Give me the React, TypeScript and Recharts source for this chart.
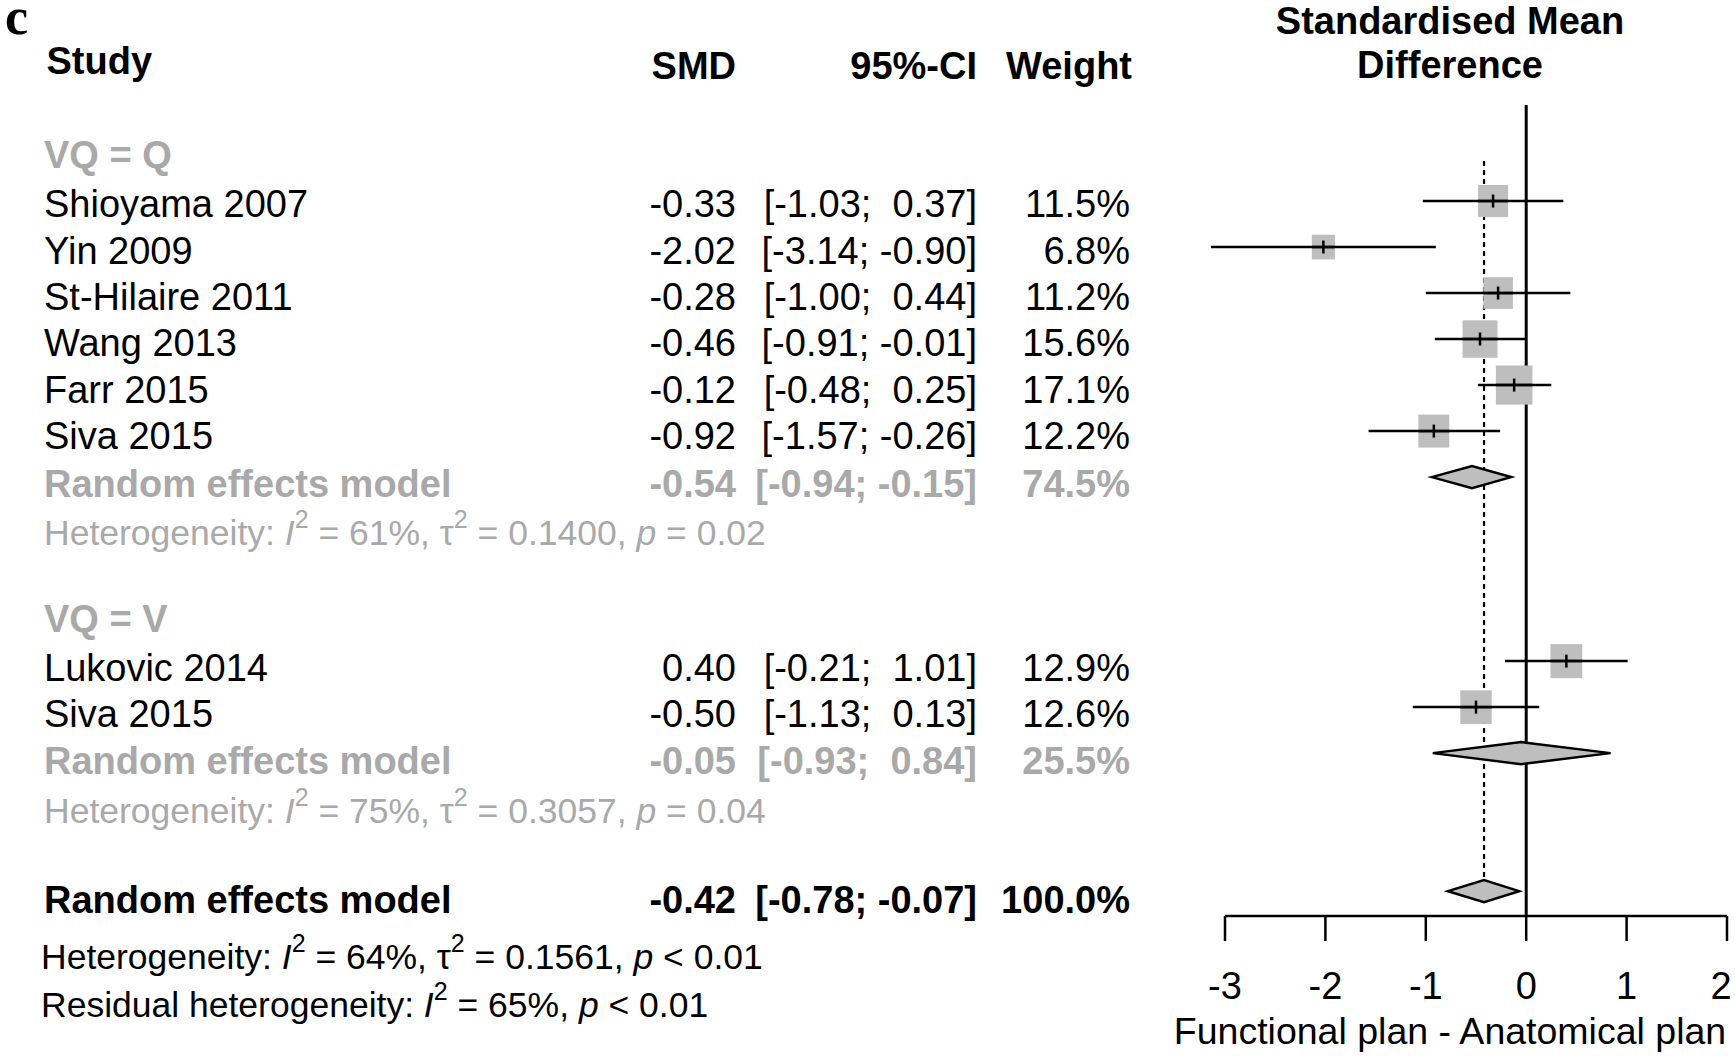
import React from 'react';
import {
  ComposedChart,
  Scatter,
  XAxis,
  YAxis,
  ReferenceLine,
  ReferenceArea,
} from 'recharts';

// ---------------- data ----------------
const studyNames = [
  'Shioyama 2007',
  'Yin 2009',
  'St-Hilaire 2011',
  'Wang 2013',
  'Farr 2015',
  'Siva 2015',
  'Lukovic 2014',
  'Siva 2015',
];
const studySMD = [-0.33, -2.02, -0.28, -0.46, -0.12, -0.92, 0.4, -0.5];
const studyLower = [-1.03, -3.14, -1.0, -0.91, -0.48, -1.57, -0.21, -1.13];
const studyUpper = [0.37, -0.9, 0.44, -0.01, 0.25, -0.26, 1.01, 0.13];
const studyWeight = [11.5, 6.8, 11.2, 15.6, 17.1, 12.2, 12.9, 12.6];

const groupLabels = ['VQ = Q', 'VQ = V'];

const pooledLabels = ['Random effects model', 'Random effects model', 'Random effects model'];
const pooledSMD = [-0.54, -0.05, -0.42];
const pooledLower = [-0.94, -0.93, -0.78];
const pooledUpper = [-0.15, 0.84, -0.07];
const pooledWeight = [74.5, 25.5, 100.0];

const hetI2 = [61, 75, 64];
const hetTau2 = ['0.1400', '0.3057', '0.1561'];
const hetP = ['= 0.02', '= 0.04', '< 0.01'];
const residualI2 = 65;
const residualP = '< 0.01';

const xTicks = [-3, -2, -1, 0, 1, 2];
const headerLabels = ['Study', 'SMD', '95%-CI', 'Weight'];
const titleLines = ['Standardised Mean', 'Difference'];
const axisTitle = 'Functional plan - Anatomical plan';
const panelLetter = 'c';

// ---------------- layout ----------------
const W = 1735;
const H = 1057;
const SANS = "'Liberation Sans', Arial, Helvetica, sans-serif";
const SERIF = "'Liberation Serif', 'Times New Roman', serif";
const GRAY = '#A9A9A9';
const FILL = '#BEBEBE';
const FS = 38;
const HET_FS = 35.5;

const studyRows = [4, 5, 6, 7, 8, 9, 14, 15];
const groupRows = [3, 13];
const pooledRows = [10, 16, 19];
const hetRows = [11, 17];
const Y_MAX = 19.54;
const DIAMOND_HALF = 0.24;

const COL_X: Record<string, number> = {
  letter: 5,
  study: 44,
  studyHead: 46.5,
  smd: 736,
  ci: 977,
  weight: 1130,
  weightHead: 1132,
  title: 1450,
};

const textRow = (r: number) => r * 1.008 + 0.04;

const fmt = (v: number) => v.toFixed(2);
const fmtCI = (lo: number, hi: number) => `[${fmt(lo)}; ${hi >= 0 ? ' ' : ''}${fmt(hi)}]`;
const fmtW = (w: number) => `${w.toFixed(1)}%`;

type Cell = {
  x: number;
  y: number;
  col: string;
  text?: string;
  het?: { label: string; i2: number; tau2?: string; p: string };
  bold?: boolean;
  color: string;
  size: number;
  anchor: 'start' | 'middle' | 'end';
  family?: string;
  baseline?: string;
};

const cells: Cell[] = [];
cells.push({ x: 0, y: 0.37, col: 'letter', text: panelLetter, bold: true, color: '#000', size: 52, anchor: 'start', family: SERIF, baseline: 'alphabetic' });
cells.push({ x: 0, y: 0.076, col: 'title', text: titleLines[0], bold: true, color: '#000', size: FS, anchor: 'middle' });
cells.push({ x: 0, y: 1.05, col: 'title', text: titleLines[1], bold: true, color: '#000', size: FS, anchor: 'middle' });
cells.push({ x: 0, y: 0.96, col: 'studyHead', text: headerLabels[0], bold: true, color: '#000', size: FS, anchor: 'start' });
cells.push({ x: 0, y: 1.065, col: 'smd', text: headerLabels[1], bold: true, color: '#000', size: FS, anchor: 'end' });
cells.push({ x: 0, y: 1.065, col: 'ci', text: headerLabels[2], bold: true, color: '#000', size: FS, anchor: 'end' });
cells.push({ x: 0, y: 1.065, col: 'weightHead', text: headerLabels[3], bold: true, color: '#000', size: FS, anchor: 'end' });

groupLabels.forEach((g, i) => {
  cells.push({ x: 0, y: textRow(groupRows[i]) - 0.06, col: 'study', text: g, bold: true, color: GRAY, size: FS, anchor: 'start' });
});

studyNames.forEach((name, i) => {
  const y = textRow(studyRows[i]);
  cells.push({ x: 0, y, col: 'study', text: name, color: '#000', size: FS, anchor: 'start' });
  cells.push({ x: 0, y, col: 'smd', text: fmt(studySMD[i]), color: '#000', size: FS, anchor: 'end' });
  cells.push({ x: 0, y, col: 'ci', text: fmtCI(studyLower[i], studyUpper[i]), color: '#000', size: FS, anchor: 'end' });
  cells.push({ x: 0, y, col: 'weight', text: fmtW(studyWeight[i]), color: '#000', size: FS, anchor: 'end' });
});

pooledLabels.forEach((lab, i) => {
  const y = textRow(pooledRows[i]) + (i === 0 ? 0.04 : 0);
  const color = i < 2 ? GRAY : '#000';
  cells.push({ x: 0, y, col: 'study', text: lab, bold: true, color, size: FS, anchor: 'start' });
  cells.push({ x: 0, y, col: 'smd', text: fmt(pooledSMD[i]), bold: true, color, size: FS, anchor: 'end' });
  cells.push({ x: 0, y, col: 'ci', text: fmtCI(pooledLower[i], pooledUpper[i]), bold: true, color, size: FS, anchor: 'end' });
  cells.push({ x: 0, y, col: 'weight', text: fmtW(pooledWeight[i]), bold: true, color, size: FS, anchor: 'end' });
});

hetRows.forEach((r, i) => {
  cells.push({
    x: 0,
    y: textRow(r) + 0.09,
    col: 'study',
    het: { label: 'Heterogeneity', i2: hetI2[i], tau2: hetTau2[i], p: hetP[i] },
    color: GRAY,
    size: HET_FS,
    anchor: 'start',
  });
});

const squarePoints = studySMD.map((v, i) => ({ x: v, y: studyRows[i], w: studyWeight[i] }));

// ---------------- rendering helpers ----------------
function HetContent({ label, i2, tau2, p, size }: { label: string; i2: number; tau2?: string; p: string; size: number }) {
  const sup = Math.round(size * 0.7);
  const up = Math.round(size * 0.4);
  return (
    <>
      {`${label}: `}
      <tspan fontStyle="italic">I</tspan>
      <tspan dy={-up} fontSize={sup}>2</tspan>
      <tspan dy={up}>{` = ${i2}%, `}</tspan>
      {tau2 != null ? (
        <>
          {'\u03C4'}
          <tspan dy={-up} fontSize={sup}>2</tspan>
          <tspan dy={up}>{` = ${tau2}, `}</tspan>
        </>
      ) : null}
      <tspan fontStyle="italic">p</tspan>
      {` ${p}`}
    </>
  );
}

const TextCellShape = (props: any) => {
  const { cy, payload } = props;
  const c: Cell = payload;
  if (cy == null || !c) return <g />;
  return (
    <text
      x={COL_X[c.col]}
      y={cy}
      textAnchor={c.anchor}
      dominantBaseline={c.baseline ?? 'central'}
      fontFamily={c.family ?? SANS}
      fontSize={c.size}
      fontWeight={c.bold ? 700 : 400}
      fill={c.color}
      xmlSpace="preserve"
      style={{ whiteSpace: 'pre' }}
    >
      {c.het ? <HetContent {...c.het} size={c.size} /> : c.text}
    </text>
  );
};

const SQUARE_K = 8.85;
const SquareShape = (props: any) => {
  const { cx, cy, payload } = props;
  if (cx == null || cy == null) return <g />;
  const s = SQUARE_K * Math.sqrt(payload.w);
  const h = s * 1.07;
  return (
    <g>
      <rect x={cx - s / 2} y={cy - h / 2} width={s} height={h} fill={FILL} />
      <line x1={cx - s / 2} x2={cx + s / 2} y1={cy} y2={cy} stroke="#000" strokeWidth={2.5} />
      <line x1={cx} x2={cx} y1={cy - 6.5} y2={cy + 6.5} stroke="#000" strokeWidth={2.5} />
    </g>
  );
};

const makeDiamond = (est: number, lo: number, hi: number) => (p: any) => {
  const x = Number(p.x);
  const y = Number(p.y);
  const w = Number(p.width);
  const h = Number(p.height);
  const t = (est - lo) / (hi - lo);
  const cx = x + w * t;
  const mid = y + h / 2;
  return (
    <polygon
      points={`${x},${mid} ${cx},${y} ${x + w},${mid} ${cx},${y + h}`}
      fill={FILL}
      stroke="#000"
      strokeWidth={2.5}
      strokeLinejoin="miter"
    />
  );
};

const AxisTick = (props: any) => {
  const { x, y, payload } = props;
  const v = payload ? payload.value : 0;
  const shift = v === xTicks[xTicks.length - 1] ? -6 : 0;
  return (
    <text x={x + shift} y={y} dy="0.71em" textAnchor="middle" fontFamily={SANS} fontSize={38} fill="#000">
      {String(v)}
    </text>
  );
};

const renderBelowAxis = (props: any) => {
  const vb = props && props.viewBox && props.viewBox.width ? props.viewBox : { x: 1225, y: 916, width: 502, height: 141 };
  const titleX = vb.x + vb.width / 2 - 26;
  return (
    <g>
      <text x={titleX} y={vb.y + 115} textAnchor="middle" dominantBaseline="central" fontFamily={SANS} fontSize={37.5} fill="#000">
        {axisTitle}
      </text>
      <text x={41} y={vb.y + 41} dominantBaseline="central" fontFamily={SANS} fontSize={HET_FS} fill="#000" xmlSpace="preserve" style={{ whiteSpace: 'pre' }}>
        <HetContent label="Heterogeneity" i2={hetI2[2]} tau2={hetTau2[2]} p={hetP[2]} size={HET_FS} />
      </text>
      <text x={41} y={vb.y + 89} dominantBaseline="central" fontFamily={SANS} fontSize={HET_FS} fill="#000" xmlSpace="preserve" style={{ whiteSpace: 'pre' }}>
        <HetContent label="Residual heterogeneity" i2={residualI2} p={residualP} size={HET_FS} />
      </text>
    </g>
  );
};

export default function App() {
  const overall = pooledSMD[2];
  return (
    <div style={{ position: 'absolute', left: 0, top: 0, width: W, height: H, background: '#fff' }}>
      <ComposedChart width={W} height={H} margin={{ top: 17, right: 8, bottom: 0, left: 1225 }}>
        <XAxis
          type="number"
          dataKey="x"
          domain={[-3, 2]}
          ticks={xTicks}
          interval={0}
          height={141}
          tickSize={25}
          tickMargin={31}
          axisLine={{ stroke: '#000', strokeWidth: 2.5 }}
          tickLine={{ stroke: '#000', strokeWidth: 2.5 }}
          tick={AxisTick}
          label={renderBelowAxis}
        />
        <YAxis type="number" dataKey="y" domain={[0, Y_MAX]} reversed hide />

        <ReferenceLine
          segment={[{ x: 0, y: 1.91 }, { x: 0, y: Y_MAX }]}
          stroke="#000"
          strokeWidth={3}
          ifOverflow="visible"
          zIndex={100}
        />
        <ReferenceLine
          segment={[{ x: overall, y: 3.13 }, { x: overall, y: pooledRows[2] - DIAMOND_HALF }]}
          stroke="#000"
          strokeWidth={2.2}
          strokeDasharray="5 4"
          ifOverflow="visible"
          zIndex={100}
        />

        <Scatter data={squarePoints} shape={SquareShape} isAnimationActive={false} zIndex={200} />

        {studySMD.map((_, i) => (
          <ReferenceLine
            key={`ci-${i}`}
            segment={[{ x: studyLower[i], y: studyRows[i] }, { x: studyUpper[i], y: studyRows[i] }]}
            stroke="#000"
            strokeWidth={2.5}
            ifOverflow="visible"
            zIndex={300}
          />
        ))}

        {pooledSMD.map((est, i) => (
          <ReferenceArea
            key={`dia-${i}`}
            x1={pooledLower[i]}
            x2={pooledUpper[i]}
            y1={pooledRows[i] - DIAMOND_HALF}
            y2={pooledRows[i] + DIAMOND_HALF}
            ifOverflow="visible"
            shape={makeDiamond(est, pooledLower[i], pooledUpper[i])}
            zIndex={400}
          />
        ))}

        <Scatter data={cells} shape={TextCellShape} isAnimationActive={false} zIndex={600} />
      </ComposedChart>
    </div>
  );
}
